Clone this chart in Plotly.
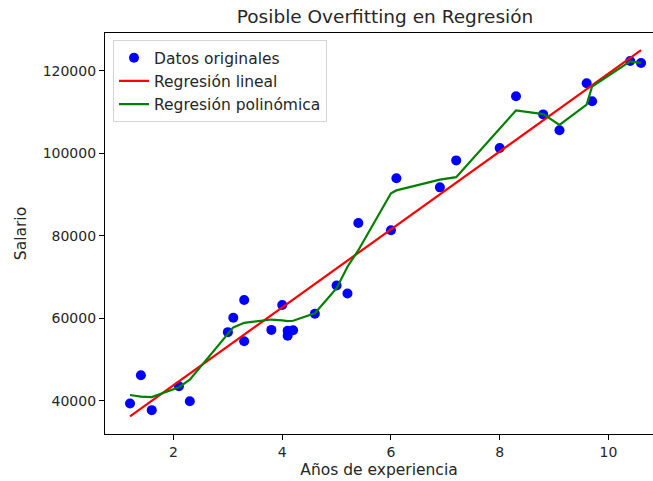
import plotly.graph_objects as go

# Data (Años de experiencia vs Salario)
years = [1.2, 1.4, 1.6, 2.1, 2.3, 3.0, 3.1, 3.3, 3.3, 3.8, 4.0, 4.1, 4.1, 4.2, 4.6,
         5.0, 5.2, 5.4, 6.0, 6.1, 6.9, 7.2, 8.0, 8.3, 8.8, 9.1, 9.6, 9.7, 10.4, 10.6]
salary = [39343, 46205, 37731, 43525, 39891, 56642, 60150, 54445, 64445, 57189,
          63218, 55794, 56957, 57081, 61111, 67938, 66029, 83088, 81363, 93940,
          91738, 98273, 101302, 113812, 109431, 105582, 116969, 112635, 122391, 121872]

# Linear regression line
lin_x = [1.2, 10.6]
lin_y = [36200, 125000]

# Polynomial regression values at the sorted data points
poly_y = [41400, 41000, 40900, 43300, 45100, 56300, 57800, 58900, 58900, 59700,
          59500, 59300, 59300, 59400, 61200, 67300, 72500, 76500, 90300, 91000,
          93600, 94200, 106100, 110400, 109500, 106900, 111800, 116200, 122300, 121900]

FONT = "DejaVu Sans"
TXT = "#262626"

fig = go.Figure()
fig.add_trace(go.Scatter(x=years, y=salary, mode="markers", name="Datos originales",
                         marker=dict(color="blue", size=10, line=dict(width=0))))
fig.add_trace(go.Scatter(x=lin_x, y=lin_y, mode="lines", name="Regresión lineal",
                         line=dict(color="red", width=2.2)))
fig.add_trace(go.Scatter(x=years, y=poly_y, mode="lines", name="Regresión polinómica",
                         line=dict(color="green", width=2.2)))

fig.update_layout(
    width=653, height=481,
    margin=dict(l=105, r=0, t=33, b=47),
    paper_bgcolor="white", plot_bgcolor="white",
    font=dict(family=FONT, size=14, color=TXT),
    title=dict(text="Posible Overfitting en Regresión", x=0.511, xref="paper",
               xanchor="center", y=0.965, yref="container", yanchor="middle",
               font=dict(family=FONT, size=18.5, color=TXT)),
    showlegend=True,
    legend=dict(x=0.0146, y=0.982, xanchor="left", yanchor="top",
                bgcolor="rgba(255,255,255,0.8)", bordercolor="#d5d5d5", borderwidth=1,
                font=dict(family=FONT, size=15.5, color=TXT),
                itemwidth=30),
    xaxis=dict(range=[0.74, 10.82], tickmode="array", tickvals=[2, 4, 6, 8, 10],
               showgrid=False, zeroline=False, showline=True, linecolor="black",
               linewidth=1.2, mirror=True, ticks="outside", ticklen=5, tickwidth=1.2,
               tickcolor="black", tickfont=dict(family=FONT, size=14, color=TXT),
               title=dict(text="Años de experiencia", standoff=5,
                          font=dict(family=FONT, size=15.5, color=TXT))),
    yaxis=dict(range=[31950, 129160], tickmode="array",
               tickvals=[40000, 60000, 80000, 100000, 120000], tickformat="d",
               showgrid=False, zeroline=False, showline=True, linecolor="black",
               linewidth=1.2, mirror=False, ticks="outside", ticklen=5, tickwidth=1.2,
               tickcolor="black", tickfont=dict(family=FONT, size=14, color=TXT),
               title=dict(text="Salario", standoff=12,
                          font=dict(family=FONT, size=15.5, color=TXT))),
)

fig.write_html("out.html")
